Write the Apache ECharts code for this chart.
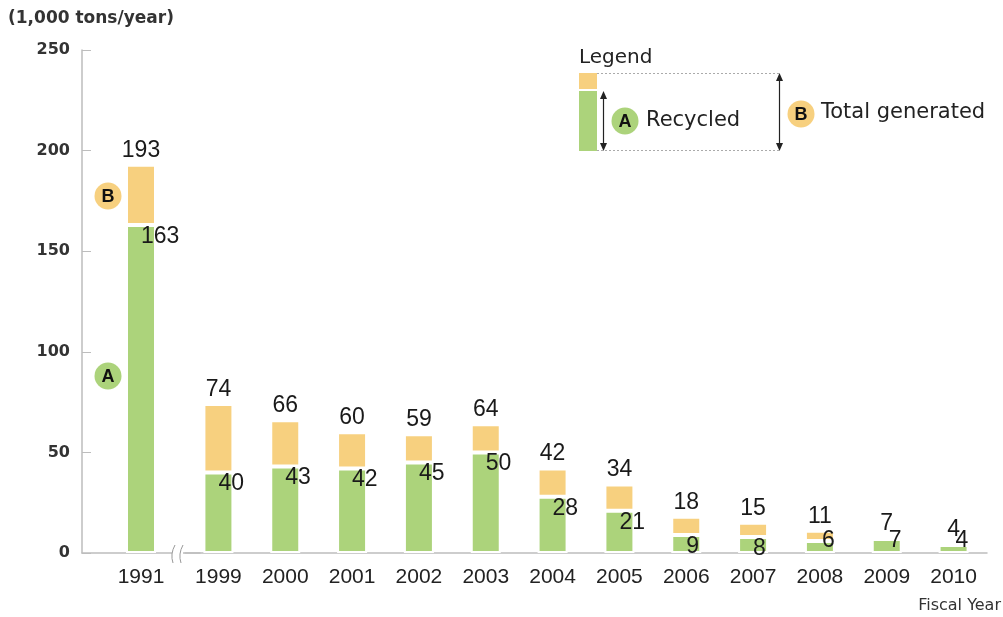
<!DOCTYPE html>
<html>
<head>
<meta charset="utf-8">
<script src="https://cdn.jsdelivr.net/npm/echarts@6/dist/echarts.min.js"></script>
<style>
html,body{margin:0;padding:0;background:#fff;}
#chart{width:1003px;height:617px;}
</style>
</head>
<body>
<div id="chart"></div>
<script>
// ---- data ----
var years = ['1991','1999','2000','2001','2002','2003','2004','2005','2006','2007','2008','2009','2010'];
var recycled = [163, 40, 43, 42, 45, 50, 28, 21, 9, 8, 6, 7, 4];
var totalGenerated = [193, 74, 66, 60, 59, 64, 42, 34, 18, 15, 11, 7, 4];
var yTicks = [0, 50, 100, 150, 200, 250];

var GREEN = '#acd37b';
var ORANGE = '#f7d07f';
var NUMFONT = '"Liberation Sans", Arial, Helvetica, sans-serif';
var WIDEFONT = '"DejaVu Sans", Verdana, sans-serif';

function greenItem(v) {
  var small = v < 8;
  return {
    value: v,
    label: small
      ? { position: ['50%', '100%'], align: 'left', verticalAlign: 'bottom', offset: [2, -1] }
      : { position: ['50%', 0], align: 'left', verticalAlign: 'top', offset: [0, 0] }
  };
}

function buildSeries(idx, from, to) {
  var g = [], o = [];
  for (var i = from; i < to; i++) {
    g.push(greenItem(recycled[i]));
    o.push({ value: totalGenerated[i] - recycled[i], total: totalGenerated[i] });
  }
  var common = {
    type: 'bar', stack: 's' + idx, xAxisIndex: idx, yAxisIndex: idx,
    barWidth: 30, animation: false
  };
  return [
    Object.assign({}, common, {
      name: 'Recycled', data: g,
      itemStyle: { color: GREEN, borderColor: '#fff', borderWidth: 2 },
      label: { show: true, color: '#1a1a1a', fontFamily: NUMFONT, fontSize: 23,
               formatter: function (p) { return p.value; } }
    }),
    Object.assign({}, common, {
      name: 'Remainder', data: o,
      itemStyle: { color: ORANGE, borderColor: '#fff', borderWidth: 2 },
      label: { show: true, position: 'top', distance: 3, color: '#1a1a1a', fontFamily: NUMFONT, fontSize: 23,
               formatter: function (p) { return p.data.total; } }
    })
  ];
}

var axisColor = '#bdbdbd';
function xAxis(idx, cats) {
  return {
    type: 'category', gridIndex: idx, data: cats,
    axisLine: { lineStyle: { color: axisColor, width: 1.5 } },
    axisTick: { show: false },
    axisLabel: { color: '#222', fontFamily: NUMFONT, fontSize: 21, margin: 14 }
  };
}
function yAxis(idx, visible) {
  return {
    type: 'value', gridIndex: idx, min: 0, max: 250, interval: 50,
    show: visible,
    axisLine: { show: true, lineStyle: { color: axisColor, width: 1.5 } },
    axisTick: { show: true, inside: true, length: 9, lineStyle: { color: axisColor } },
    splitLine: { show: false },
    axisLabel: { color: '#333', fontFamily: WIDEFONT, fontWeight: 'bold', fontSize: 16, margin: 12,
                 formatter: function (v) { return yTicks.indexOf(v) >= 0 ? String(v) : ''; } }
  };
}

function circle(cx, cy, color, letter) {
  return [
    { type: 'circle', shape: { cx: cx, cy: cy, r: 13.5 }, style: { fill: color }, z: 100 },
    { type: 'text', x: cx, y: cy + 1, style: { text: letter, fill: '#111', font: 'bold 18px ' + NUMFONT,
      textAlign: 'center', textVerticalAlign: 'middle' }, z: 101 }
  ];
}
function arrow(x, y1, y2) {
  return [
    { type: 'line', shape: { x1: x, y1: y1 + 3, x2: x, y2: y2 - 3 }, style: { stroke: '#222', lineWidth: 1.2 }, z: 100 },
    { type: 'polygon', shape: { points: [[x, y1], [x - 3.5, y1 + 8], [x + 3.5, y1 + 8]] }, style: { fill: '#222' }, z: 100 },
    { type: 'polygon', shape: { points: [[x, y2], [x - 3.5, y2 - 8], [x + 3.5, y2 - 8]] }, style: { fill: '#222' }, z: 100 }
  ];
}

var graphics = [].concat(
  [
    { type: 'text', x: 8, y: 19, style: { text: '(1,000 tons/year)', fill: '#333',
      font: 'bold 17px ' + WIDEFONT, textVerticalAlign: 'middle' } },
    { type: 'text', x: 1001, y: 606, style: { text: 'Fiscal Year', fill: '#333',
      font: '16px ' + WIDEFONT, textAlign: 'right', textVerticalAlign: 'middle' } },
    // axis break
    { type: 'rect', shape: { x: 172, y: 549, width: 11, height: 9 }, style: { fill: '#fff' }, z: 99 },
    { type: 'bezierCurve', shape: { x1: 175, y1: 545, x2: 173, y2: 563, cpx1: 170, cpy1: 554 },
      style: { stroke: '#999', lineWidth: 1, fill: null }, z: 100 },
    { type: 'bezierCurve', shape: { x1: 183, y1: 545, x2: 181, y2: 563, cpx1: 178, cpy1: 554 },
      style: { stroke: '#999', lineWidth: 1, fill: null }, z: 100 },
    // legend
    { type: 'text', x: 579, y: 58, style: { text: 'Legend', fill: '#222',
      font: '20px ' + WIDEFONT, textVerticalAlign: 'middle' } },
    { type: 'rect', shape: { x: 579, y: 73, width: 18, height: 16 }, style: { fill: ORANGE } },
    { type: 'rect', shape: { x: 579, y: 91, width: 18, height: 60 }, style: { fill: GREEN } },
    { type: 'line', shape: { x1: 597, y1: 73.5, x2: 779, y2: 73.5 }, style: { stroke: '#aaa', lineWidth: 1, lineDash: [2, 2] } },
    { type: 'line', shape: { x1: 597, y1: 150.5, x2: 779, y2: 150.5 }, style: { stroke: '#aaa', lineWidth: 1, lineDash: [2, 2] } },
    { type: 'text', x: 646, y: 121, style: { text: 'Recycled', fill: '#222',
      font: '21px ' + WIDEFONT, textVerticalAlign: 'middle' } },
    { type: 'text', x: 821, y: 113, style: { text: 'Total generated', fill: '#222',
      font: '21px ' + WIDEFONT, textVerticalAlign: 'middle' } }
  ],
  arrow(603.5, 91, 151),
  arrow(779.5, 73, 151),
  circle(625, 121, GREEN, 'A'),
  circle(801, 114, ORANGE, 'B'),
  circle(108, 196, ORANGE, 'B'),
  circle(108, 376, GREEN, 'A')
);

var chart = echarts.init(document.getElementById('chart'), null, { renderer: 'canvas' });
chart.setOption({
  animation: false,
  backgroundColor: '#fff',
  grid: [
    { left: 82, top: 50, width: 118, bottom: 64 },
    { left: 185, top: 50, width: 802, bottom: 64 }
  ],
  xAxis: [xAxis(0, years.slice(0, 1)), xAxis(1, years.slice(1))],
  yAxis: [yAxis(0, true), yAxis(1, false)],
  series: [].concat(buildSeries(0, 0, 1), buildSeries(1, 1, years.length)),
  graphic: graphics
});
</script>
</body>
</html>
